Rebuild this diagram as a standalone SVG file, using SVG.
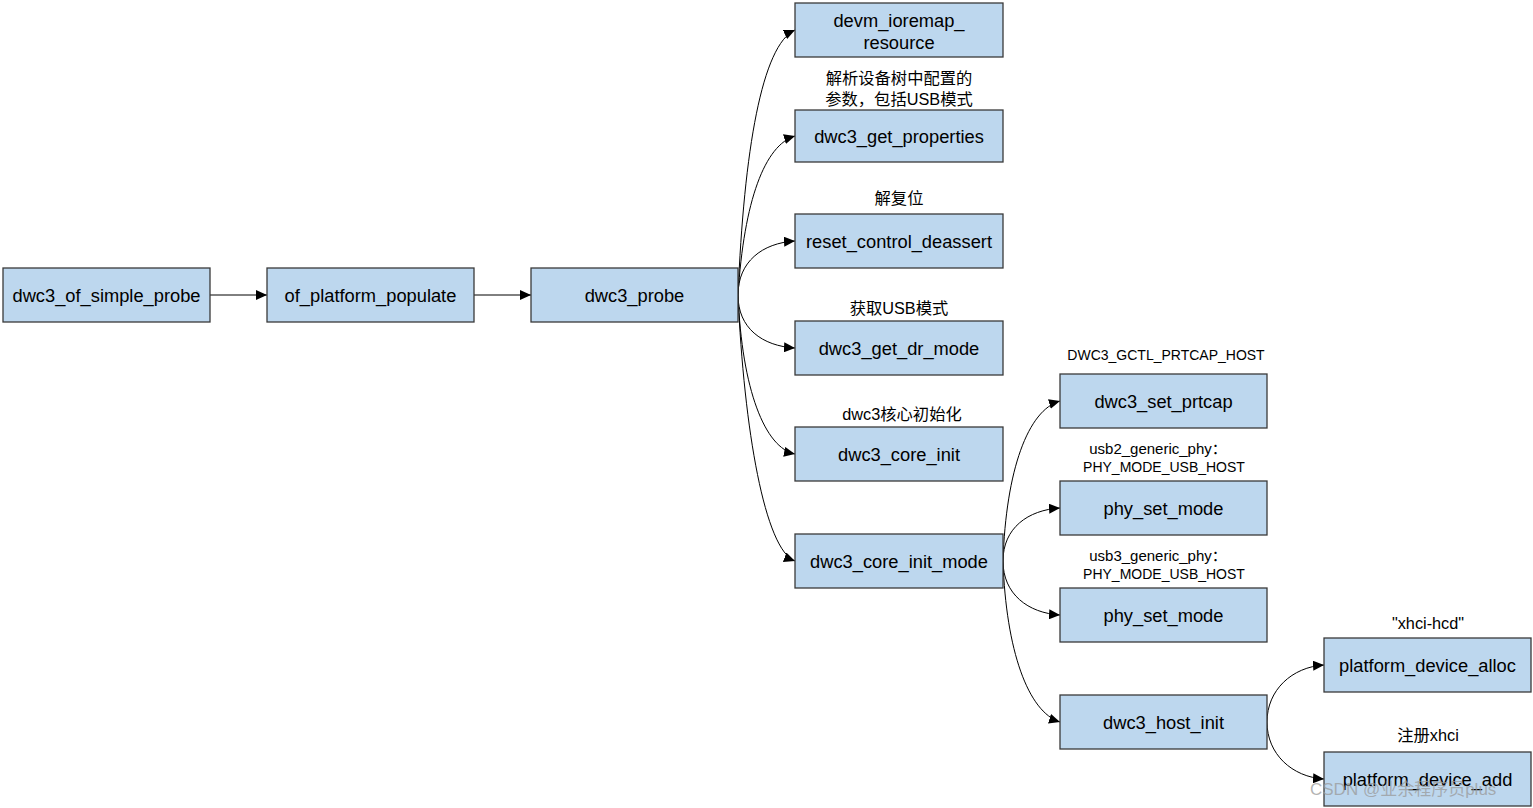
<svg xmlns="http://www.w3.org/2000/svg" width="1533" height="808" viewBox="0 0 1533 808">
<style>
.box{fill:#bdd7ee;stroke:#3a3a3a;stroke-width:1.3}
.t{font-family:"Liberation Sans","Noto Sans CJK SC",sans-serif;font-size:18.3px;fill:#000;text-anchor:middle;dominant-baseline:central}
.l{font-family:"Liberation Sans","Noto Sans CJK SC",sans-serif;font-size:15px;fill:#000;text-anchor:middle;dominant-baseline:central}
.lc{font-family:"Liberation Sans","Noto Sans CJK SC",sans-serif;font-size:16.3px;fill:#000;text-anchor:middle;dominant-baseline:central}
.lu{font-family:"Liberation Sans","Noto Sans CJK SC",sans-serif;font-size:14px;fill:#000;text-anchor:middle;dominant-baseline:central}
.c{fill:none;stroke:#000;stroke-width:1}
.wm{font-family:"Liberation Sans","Noto Sans CJK SC",sans-serif;font-size:17px;fill:#9a9a9a;fill-opacity:0.75}
</style>
<defs>
<marker id="ah" markerWidth="12" markerHeight="10" refX="11" refY="5" orient="auto" markerUnits="userSpaceOnUse">
<path d="M0,0 L11,5 L0,10 Z" fill="#000"/>
</marker>
</defs>
<rect width="1533" height="808" fill="#fff"/>
<g id="connectors">
<path class="c" d="M210,295 L267,295" marker-end="url(#ah)"/>
<path class="c" d="M474,295 L531,295" marker-end="url(#ah)"/>
<path class="c" d="M738,295 C744,150 762,45 795,30" marker-end="url(#ah)"/>
<path class="c" d="M738,295 C744,200 765,145 795,136" marker-end="url(#ah)"/>
<path class="c" d="M738,295 C738,262 762,243 795,241" marker-end="url(#ah)"/>
<path class="c" d="M738,295 C738,328 762,346 795,348" marker-end="url(#ah)"/>
<path class="c" d="M738,295 C742,390 765,448 795,454" marker-end="url(#ah)"/>
<path class="c" d="M738,295 C744,430 765,550 795,561" marker-end="url(#ah)"/>
<path class="c" d="M1003,561 C1006,470 1028,410 1060,401" marker-end="url(#ah)"/>
<path class="c" d="M1003,561 C1003,528 1028,510 1060,508" marker-end="url(#ah)"/>
<path class="c" d="M1003,561 C1003,594 1028,613 1060,615" marker-end="url(#ah)"/>
<path class="c" d="M1003,561 C1006,650 1028,712 1060,722" marker-end="url(#ah)"/>
<path class="c" d="M1267,722 C1267,690 1292,667 1324,665" marker-end="url(#ah)"/>
<path class="c" d="M1267,722 C1267,754 1292,777 1324,779" marker-end="url(#ah)"/>
</g>
<g id="n_of_simple_probe"><rect class="box" x="3" y="268" width="207" height="54"/><text class="t" x="106.5" y="295">dwc3_of_simple_probe</text></g>
<g id="n_of_platform_populate"><rect class="box" x="267" y="268" width="207" height="54"/><text class="t" x="370.5" y="295">of_platform_populate</text></g>
<g id="n_dwc3_probe"><rect class="box" x="531" y="268" width="207" height="54"/><text class="t" x="634.5" y="295">dwc3_probe</text></g>
<g id="n_devm"><rect class="box" x="795" y="3" width="208" height="54"/><text class="t" x="899" y="20">devm_ioremap_</text><text class="t" x="899" y="42">resource</text></g>
<g id="n_get_properties"><text class="lc" x="899" y="78">解析设备树中配置的</text><text class="lc" x="899" y="99">参数，包括USB模式</text><rect class="box" x="795" y="110" width="208" height="52"/><text class="t" x="899" y="136">dwc3_get_properties</text></g>
<g id="n_reset"><text class="lc" x="899" y="198">解复位</text><rect class="box" x="795" y="214" width="208" height="54"/><text class="t" x="899" y="241">reset_control_deassert</text></g>
<g id="n_dr_mode"><text class="lc" x="899" y="308">获取USB模式</text><rect class="box" x="795" y="321" width="208" height="54"/><text class="t" x="899" y="348">dwc3_get_dr_mode</text></g>
<g id="n_core_init"><text class="lc" x="902" y="414">dwc3核心初始化</text><rect class="box" x="795" y="427" width="208" height="54"/><text class="t" x="899" y="454">dwc3_core_init</text></g>
<g id="n_core_init_mode"><rect class="box" x="795" y="534" width="208" height="54"/><text class="t" x="899" y="561">dwc3_core_init_mode</text></g>
<g id="n_set_prtcap"><text class="lu" x="1166" y="355">DWC3_GCTL_PRTCAP_HOST</text><rect class="box" x="1060" y="374" width="207" height="54"/><text class="t" x="1163.5" y="401">dwc3_set_prtcap</text></g>
<g id="n_phy1"><text class="l" x="1158" y="448">usb2_generic_phy：</text><text class="lu" x="1164" y="467">PHY_MODE_USB_HOST</text><rect class="box" x="1060" y="481" width="207" height="54"/><text class="t" x="1163.5" y="508">phy_set_mode</text></g>
<g id="n_phy2"><text class="l" x="1158" y="555">usb3_generic_phy：</text><text class="lu" x="1164" y="574">PHY_MODE_USB_HOST</text><rect class="box" x="1060" y="588" width="207" height="54"/><text class="t" x="1163.5" y="615">phy_set_mode</text></g>
<g id="n_host_init"><rect class="box" x="1060" y="695" width="207" height="54"/><text class="t" x="1163.5" y="722">dwc3_host_init</text></g>
<g id="n_alloc"><text class="lc" x="1428" y="623">"xhci-hcd"</text><rect class="box" x="1324" y="638" width="207" height="54"/><text class="t" x="1427.5" y="665">platform_device_alloc</text></g>
<g id="n_add"><text class="lc" x="1428" y="735">注册xhci</text><rect class="box" x="1324" y="752" width="207" height="54"/><text class="t" x="1427.5" y="779">platform_device_add</text></g>
<text class="wm" x="1310" y="795">CSDN @业余程序员plus</text>
</svg>
